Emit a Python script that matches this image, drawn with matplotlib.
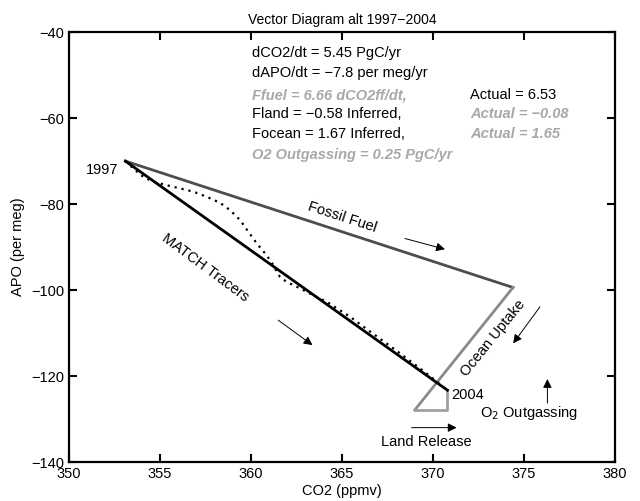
import matplotlib
matplotlib.use("Agg")
import matplotlib.pyplot as plt

plt.rcParams['font.family'] = ['Liberation Sans', 'DejaVu Sans']
plt.rcParams['font.size'] = 10.5

# ---- data ----
start_pt = (353.1, -70.0)          # 1997
fossil_end = (374.4, -99.4)
ocean_end = (369.0, -127.9)
land_end = (370.8, -127.9)
end_pt = (370.8, -123.3)           # 2004

match_x = [353.1, 370.8]
match_y = [-70.0, -123.3]

dotted_x = [353.1, 353.53, 354.08, 354.63, 355.37, 356.10, 356.83, 357.57, 358.30,
            358.85, 359.40, 359.85, 360.31, 360.86, 361.23, 361.41, 361.59, 361.96,
            362.51, 363.06, 363.60, 364.15, 364.89, 365.44, 366.5, 368.0, 369.5, 370.8]
dotted_y = [-70.0, -71.7, -73.65, -74.8, -75.6, -76.35, -77.1, -78.3, -79.7,
            -81.4, -83.7, -86.4, -89.1, -91.9, -94.2, -95.7, -96.9, -98.1,
            -99.2, -100.4, -101.6, -102.7, -104.7, -106.2, -109.5, -114.1, -118.9, -123.3]

xticks = [350, 355, 360, 365, 370, 375, 380]
yticks = [-40, -60, -80, -100, -120, -140]

left_lines = ["dCO2/dt = 5.45 PgC/yr", "dAPO/dt = \u22127.8 per meg/yr",
              "Ffuel = 6.66 dCO2ff/dt,", "Fland = \u22120.58 Inferred,",
              "Focean = 1.67 Inferred,", "O2 Outgassing = 0.25 PgC/yr"]
left_gray = [False, False, True, False, False, True]
right_lines = ["Actual = 6.53", "Actual = \u22120.08", "Actual = 1.65"]
right_gray = [False, True, True]

# ---- figure ----
fig = plt.figure(figsize=(6.4, 5.01), dpi=100)
ax = fig.add_axes([0.1078, 0.0778, 0.853, 0.858])

dark = '#4d4d4d'
mid = '#8a8a8a'
light = '#a0a0a0'

ax.plot([start_pt[0], fossil_end[0]], [start_pt[1], fossil_end[1]], color=dark, lw=2)
ax.plot([fossil_end[0], ocean_end[0]], [fossil_end[1], ocean_end[1]], color=mid, lw=2)
ax.plot([ocean_end[0], land_end[0], end_pt[0]], [ocean_end[1], land_end[1], end_pt[1]],
        color=light, lw=2)
ax.plot(match_x, match_y, color='black', lw=2)
ax.plot(dotted_x, dotted_y, color='black', lw=1.6, linestyle=(0, (1, 2.2)))

ax.set_xlim(350, 380)
ax.set_ylim(-140, -40)
ax.set_xticks(xticks)
ax.set_yticks(yticks)
ax.tick_params(direction='in', length=6, width=1.5, top=True, right=True, labelsize=10.5)
for s in ax.spines.values():
    s.set_linewidth(1.6)

ax.set_title("Vector Diagram alt 1997\u22122004", fontsize=10, pad=6)
ax.set_xlabel("CO2 (ppmv)", labelpad=2)
ax.set_ylabel("APO (per meg)", labelpad=4)

gray_txt = '#a8a8a8'
ly = [-44.95, -49.6, -54.65, -59.1, -63.8, -68.6]
for t, g, yy in zip(left_lines, left_gray, ly):
    if g:
        ax.text(360.04, yy, t, color=gray_txt, style='italic', fontweight='bold', va='center')
    else:
        ax.text(360.04, yy, t, color='black', va='center')
for t, g, yy in zip(right_lines, right_gray, ly[2:5]):
    if g:
        ax.text(372.03, yy, t, color=gray_txt, style='italic', fontweight='bold', va='center')
    else:
        ax.text(372.03, yy, t, color='black', va='center')

ax.text(352.69, -72.1, "1997", ha='right', va='center')
ax.text(371.03, -124.4, "2004", ha='left', va='center')
ax.text(365.0, -83.0, "Fossil Fuel", rotation=-18, ha='center', va='center', rotation_mode='anchor')
ax.text(357.47, -94.9, "MATCH Tracers", rotation=-36.5, ha='center', va='center', rotation_mode='anchor')
ax.text(373.3, -111.2, "Ocean Uptake", rotation=51, ha='center', va='center', rotation_mode='anchor')
ax.text(375.27, -128.6, "O$_2$ Outgassing", ha='center', va='center')
ax.text(369.62, -135.3, "Land Release", ha='center', va='center')

ap = dict(arrowstyle='-|>', lw=0.7, color='black', mutation_scale=13, shrinkA=0, shrinkB=0)
arrows = [((368.46, -88.0), (370.66, -90.5)),
          ((361.50, -107.0), (363.38, -112.8)),
          ((375.88, -103.9), (374.41, -112.4)),
          ((376.29, -126.3), (376.29, -120.7)),
          ((368.83, -132.0), (371.30, -132.0))]
for a, b in arrows:
    ax.annotate("", xy=b, xytext=a, arrowprops=ap)

fig.savefig("out.png", dpi=100)
